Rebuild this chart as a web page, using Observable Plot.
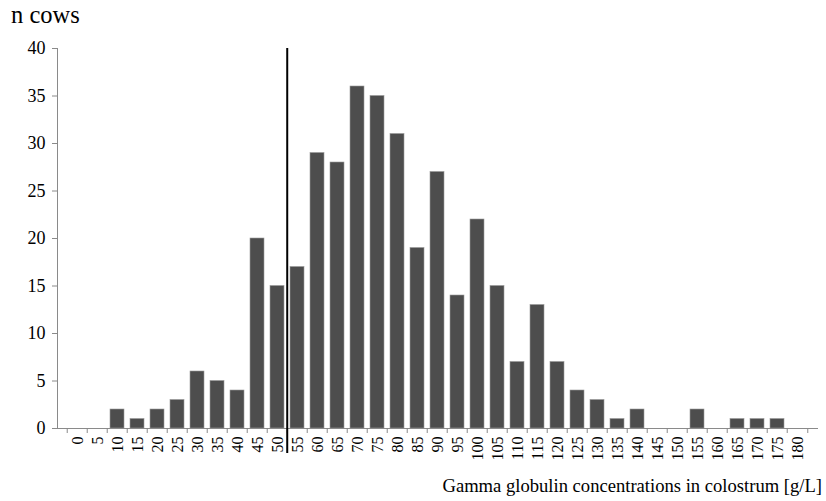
<!DOCTYPE html>
<html>
<head>
<meta charset="utf-8">
<script src="https://cdn.jsdelivr.net/npm/d3@7"></script>
<script src="https://cdn.jsdelivr.net/npm/@observablehq/plot@0.6"></script>
<style>
  html, body { margin: 0; padding: 0; background: #fff; }
  body { width: 826px; height: 501px; overflow: hidden; font-family: "Liberation Serif", "DejaVu Serif", serif; }
  #ytitle { height: 30px; font-size: 24.5px; padding-left: 11px; line-height: 30px; }
  #xtitle { height: 31px; font-size: 18.6px; text-align: right; padding-right: 4px; line-height: 31px; }
</style>
</head>
<body>
<div id="ytitle">n cows</div>
<div id="chart"></div>
<div id="xtitle">Gamma globulin concentrations in colostrum [g/L]</div>
<script>
const categories = ["0","5","10","15","20","25","30","35","40","45","50","55","60","65","70","75","80","85","90","95","100","105","110","115","120","125","130","135","140","145","150","155","160","165","170","175","180"];
const counts = [0,0,2,1,2,3,6,5,4,20,15,17,29,28,36,35,31,19,27,14,22,15,7,13,7,4,3,1,2,0,0,2,0,1,1,1,0];
const yTicks = [0,5,10,15,20,25,30,35,40];
const threshold = "55"; // line drawn at the left edge of the 55 g/L class

const data = categories.map((c, i) => ({cat: c, n: counts[i]}));

const W = 826, H = 440, mL = 57, mR = 9, mT = 18, mB = 42;
const step = (W - mL - mR) / categories.length;
const axisGray = "#8a8a8a";
const serif = "Liberation Serif";

const chart = Plot.plot({
  width: W,
  height: H,
  marginLeft: mL,
  marginRight: mR,
  marginTop: mT,
  marginBottom: mB,
  style: "background: #fff; color: #000; font-family: 'Liberation Serif', serif; font-size: 16px;",
  x: {domain: categories, paddingInner: 0.32, paddingOuter: 0.16, label: null, axis: null},
  y: {domain: [0, 40], label: null},
  marks: [
    Plot.barY(data, {x: "cat", y: "n", fill: "#4d4d4d", stroke: "#9a9a9a", strokeWidth: 0.6}),
    Plot.frame({anchor: "left", stroke: axisGray}),
    Plot.frame({anchor: "bottom", stroke: axisGray}),
    Plot.axisY({ticks: yTicks, tickSize: 5, stroke: axisGray, label: null, tickFormat: () => ""}),
    Plot.text(yTicks, {y: d => d, frameAnchor: "left", text: d => String(d), textAnchor: "end", dx: -12, fontSize: 18, fontFamily: serif, fill: "#000"}),
    Plot.text(categories, {x: d => d, y: () => 0, text: d => d, rotate: -90, textAnchor: "end", dy: 8, fontSize: 16, fontFamily: serif, fill: "#000"}),
    Plot.ruleX(categories, {x: d => d, y1: 0, y2: 0, dx: -step / 2, insetBottom: -5, stroke: axisGray}),
    Plot.ruleX([categories[categories.length - 1]], {x: d => d, y1: 0, y2: 0, dx: step / 2, insetBottom: -5, stroke: axisGray}),
    Plot.ruleX([threshold], {x: d => d, y1: 40, y2: 0, dx: -step / 2, insetBottom: -25, stroke: "#000", strokeWidth: 2})
  ]
});
document.getElementById("chart").appendChild(chart);
</script>
</body>
</html>
